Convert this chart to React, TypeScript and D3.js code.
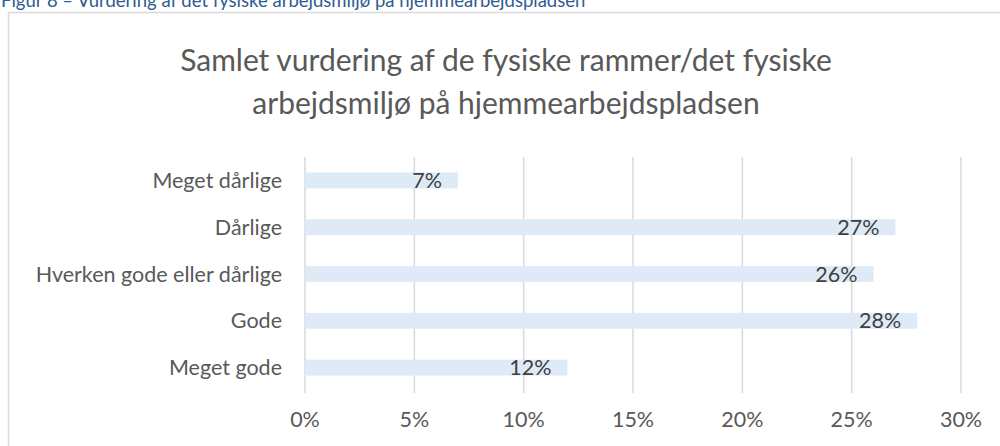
import React from 'react';
import * as d3 from 'd3';

const caption = 'Figur 8 – Vurdering af det fysiske arbejdsmiljø på hjemmearbejdspladsen';
const titleLines = ['Samlet vurdering af de fysiske rammer/det fysiske', 'arbejdsmiljø på hjemmearbejdspladsen'];
const categories = ['Meget dårlige', 'Dårlige', 'Hverken gode eller dårlige', 'Gode', 'Meget gode'];
const shares = [7, 27, 26, 28, 12];
const ticks = [0, 5, 10, 15, 20, 25, 30];

const FONT = 'Lato, "Open Sans", sans-serif';

export default function App() {
    const width = 1000;
    const height = 446;
    const margin = { top: 157, right: 39, bottom: 55, left: 305 };

    const x = d3.scaleLinear().domain([0, 30]).range([margin.left, width - margin.right]);
    const y = d3.scaleBand<string>()
        .domain(categories)
        .range([margin.top, height - margin.bottom])
        .paddingInner(0.66)
        .paddingOuter(0.33);

    return (
        <svg width={width} height={height} style={{ position: 'absolute', left: 0, top: 0, background: '#fff' }}>
            <text x={1} y={7} fontFamily={FONT} fontSize={18.5} fill="#2E5C8F">{caption}</text>
            <rect x={8.5} y={12.5} width={1000} height={500} fill="#fff" stroke="#D9D9D9" strokeWidth={1.5} />

            {titleLines.map((t, i) => (
                <text key={t} x={506} y={71 + i * 43} textAnchor="middle" fontFamily={FONT} fontSize={30} fill="#595959">{t}</text>
            ))}

            {ticks.map(t => (
                <g key={t}>
                    <line x1={x(t)} x2={x(t)} y1={margin.top} y2={height - margin.bottom + 2} stroke="#D9D9D9" strokeWidth={1.5} />
                    <text x={x(t)} y={427} textAnchor="middle" fontFamily={FONT} fontSize={21.5} fill="#595959">{t + '%'}</text>
                </g>
            ))}

            {categories.map((c, i) => {
                const cy = (y(c) as number) + y.bandwidth() / 2;
                return (
                    <g key={c}>
                        <rect x={x(0)} y={y(c)} width={x(shares[i]) - x(0)} height={y.bandwidth()} fill="#DEEBF7" />
                        <text x={margin.left - 23} y={cy} dy="0.35em" textAnchor="end" fontFamily={FONT} fontSize={21.5} fill="#595959">{c}</text>
                        <text x={x(shares[i]) - 16} y={cy} dy="0.35em" textAnchor="end" fontFamily={FONT} fontSize={21.5} fill="#404040">{shares[i] + '%'}</text>
                    </g>
                );
            })}
        </svg>
    );
}
